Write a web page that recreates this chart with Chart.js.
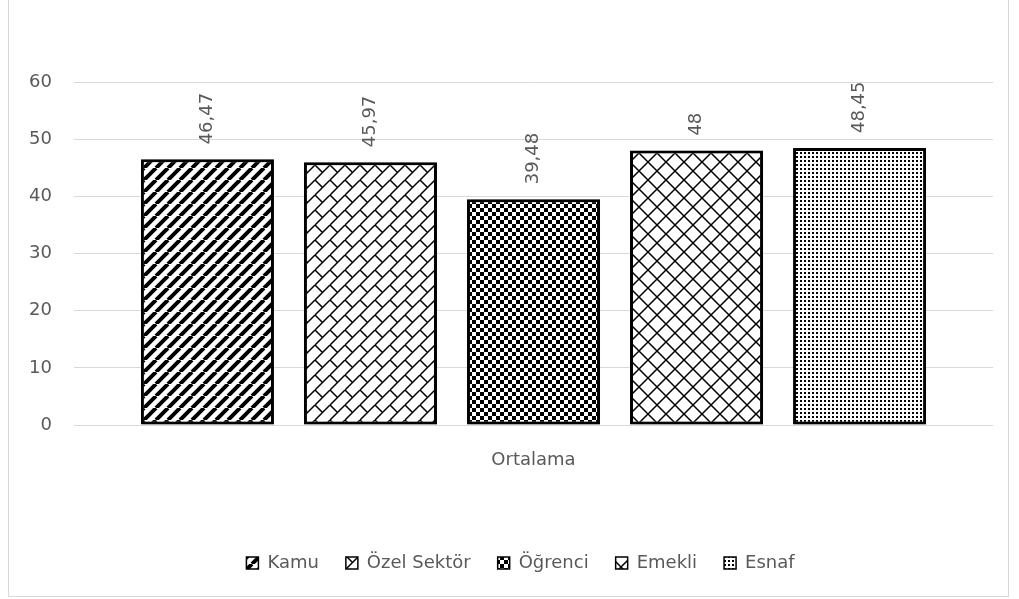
<!DOCTYPE html>
<html lang="tr">
<head>
  <meta charset="UTF-8" />
  <title>Ortalama</title>
  <script src="https://cdn.jsdelivr.net/npm/chart.js"></script>
  <style>
    body {
      margin: 0;
      background: #ffffff;
      width: 1019px;
      height: 599px;
      overflow: hidden;
    }

    #frame {
      position: absolute;
      left: 8px;
      top: -1px;
      width: 999px;
      height: 596px;
      border: 1px solid #d9d9d9;
    }

    #wrap {
      position: absolute;
      left: 0;
      top: 0;
      width: 1019px;
      height: 599px;
    }
  </style>
</head>
<body>
  <div id="frame"></div>
  <div id="wrap"><canvas id="chart"></canvas></div>

  <script>
    // values
    const categories = ['Ortalama'];
    const seriesNames = ['Kamu', 'Özel Sektör', 'Öğrenci', 'Emekli', 'Esnaf'];
    const seriesValues = [46.47, 45.97, 39.48, 48, 48.45];
    const yTicks = [0, 10, 20, 30, 40, 50, 60];

    const textColor = '#595959';
    const fontFamily = "'DejaVu Sans', sans-serif";
    const fontSize = 18;

    function makePattern(size, draw) {
      const c = document.createElement('canvas');
      c.width = size;
      c.height = size;
      const g = c.getContext('2d');
      g.fillStyle = '#fff';
      g.fillRect(0, 0, size, size);
      g.fillStyle = '#000';
      g.strokeStyle = '#000';
      draw(g, size);
      return document.createElement('canvas').getContext('2d').createPattern(c, 'repeat');
    }

    // wide upward diagonal
    const stripes = makePattern(12, (g, s) => {
      g.lineWidth = 4;
      g.beginPath();
      for (const o of [-s, 0, s]) {
        g.moveTo(o, s);
        g.lineTo(o + s, 0);
      }
      g.stroke();
    });

    // diagonal brick
    const brick = makePattern(15, (g, s) => {
      g.lineWidth = 1.5;
      g.beginPath();
      for (const o of [-s, 0, s]) {
        g.moveTo(o, s);
        g.lineTo(o + s, 0);
      }
      g.moveTo(0, 0);
      g.lineTo(s / 2, s / 2);
      g.stroke();
    });

    // large checkerboard
    const checker = makePattern(8, (g, s) => {
      g.fillRect(0, 0, s / 2, s / 2);
      g.fillRect(s / 2, s / 2, s / 2, s / 2);
    });

    // diagonal lattice
    const lattice = makePattern(18, (g, s) => {
      g.lineWidth = 1.5;
      g.beginPath();
      g.moveTo(0, 0);
      g.lineTo(s, s);
      g.moveTo(0, s);
      g.lineTo(s, 0);
      g.stroke();
    });

    // dotted
    const dots = makePattern(4, (g, s) => {
      g.fillRect(0, 0, 2, 2);
    });

    const fills = [stripes, brick, checker, lattice, dots];

    // legend sits a bit right of centre in the original
    const legendNudge = {
      id: 'legendNudge',
      afterLayout(chart) {
        chart.legend.left += 14;
        chart.legend.right += 14;
      }
    };

    const shadowPlugin = {
      id: 'barShadow',
      beforeDatasetsDraw(chart) {
        const ctx = chart.ctx;
        ctx.save();
        ctx.shadowColor = 'rgba(0,0,0,0.35)';
        ctx.shadowBlur = 5;
        ctx.shadowOffsetX = 2;
        ctx.shadowOffsetY = 1;
      },
      afterDatasetsDraw(chart) {
        chart.ctx.restore();
      }
    };

    const valueLabels = {
      id: 'valueLabels',
      afterDraw(chart) {
        const ctx = chart.ctx;
        ctx.save();
        ctx.fillStyle = textColor;
        ctx.font = fontSize + 'px ' + fontFamily;
        ctx.textAlign = 'left';
        ctx.textBaseline = 'middle';
        chart.data.datasets.forEach((ds, i) => {
          const bar = chart.getDatasetMeta(i).data[0];
          const txt = String(ds.data[0]).replace('.', ',');
          ctx.save();
          ctx.translate(bar.x, bar.y - 15);
          ctx.rotate(-Math.PI / 2);
          ctx.fillText(txt, 0, 0);
          ctx.restore();
        });
        ctx.restore();
      }
    };

    const datasets = seriesNames.map((name, i) => ({
      label: name,
      data: [seriesValues[i]],
      backgroundColor: fills[i],
      borderColor: '#000',
      borderWidth: 3,
      borderSkipped: false,
      categoryPercentage: 0.887,
      barPercentage: 0.816
    }));

    new Chart(document.getElementById('chart'), {
      type: 'bar',
      data: { labels: categories, datasets: datasets },
      options: {
        responsive: true,
        maintainAspectRatio: false,
        animation: false,
        layout: { padding: { left: 20, right: 26, top: 82, bottom: 17 } },
        plugins: {
          tooltip: { enabled: false },
          legend: {
            position: 'bottom',
            labels: {
              color: textColor,
              font: { family: fontFamily, size: fontSize },
              boxWidth: 12,
              boxHeight: 12,
              padding: 27,
              generateLabels(chart) {
                return Chart.defaults.plugins.legend.labels.generateLabels(chart)
                  .map(l => Object.assign(l, { lineWidth: 1.5 }));
              }
            }
          }
        },
        scales: {
          x: {
            grid: { display: false },
            border: { display: false },
            ticks: {
              color: textColor,
              font: { family: fontFamily, size: fontSize },
              padding: 17
            },
            afterFit(scale) { scale.height = 102; }
          },
          y: {
            min: 0,
            max: 60,
            afterBuildTicks(scale) {
              scale.ticks = yTicks.map(v => ({ value: v }));
            },
            grid: { color: '#d9d9d9', lineWidth: 1, drawTicks: false },
            border: { display: false },
            ticks: {
              color: textColor,
              font: { family: fontFamily, size: fontSize },
              padding: 22
            },
            afterFit(scale) { scale.width = 54; }
          }
        }
      },
      plugins: [legendNudge, shadowPlugin, valueLabels]
    });
  </script>
</body>
</html>
